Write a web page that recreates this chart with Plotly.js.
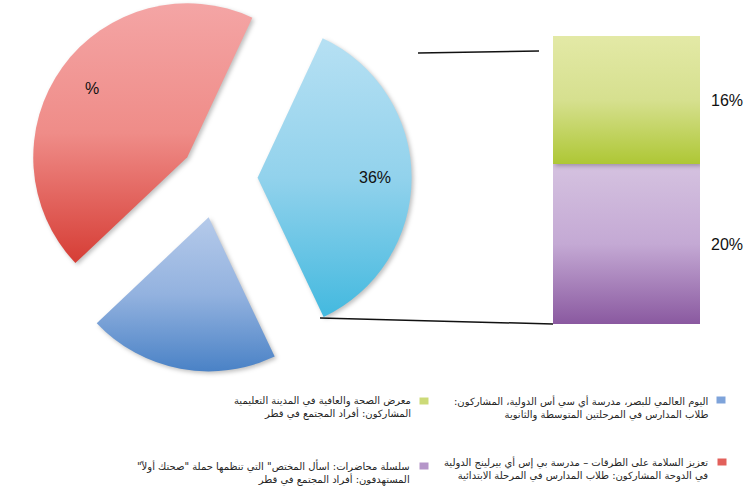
<!DOCTYPE html>
<html><head><meta charset="utf-8">
<script src="https://cdn.plot.ly/plotly-3.0.1.min.js"></script>
<style>
html,body{margin:0;padding:0;overflow:hidden;width:748px;height:487px;background:#fff}
#chart{position:absolute;left:0;top:-20px;width:748px;height:507px}
</style>
</head><body><div id="chart"></div>
<script>
// ---- data ----
const pieLabels = ['تعزيز السلامة على الطرقات', 'اليوم العالمي للبصر', 'أخرى'];
const pieValues = [44, 20, 36];
const pieText = ['%', '', '36%'];
const pieColors = ['#EC807C', '#8CAEDD', '#86CDEA'];

const barGroup = ['أخرى'];
const barNames = ['سلسلة محاضرات', 'معرض الصحة والعافية'];
const barValues = [20, 16];
const barText = ['20%', '16%'];
const barColors = ['#BBA0CD', '#D0DC7C'];

const legendLines = [
  ['اليوم العالمي للبصر، مدرسة أي سي أس الدولية، المشاركون:', 'طلاب المدارس في المرحلتين المتوسطة والثانوية'],
  ['معرض الصحة والعافية في المدينة التعليمية', 'المشاركون: أفراد المجتمع في قطر'],
  ['تعزيز السلامة على الطرقات – مدرسة بي إس أي بيرلينج الدولية', 'في الدوحة المشاركون: طلاب المدارس في المرحلة الابتدائية'],
  ['سلسلة محاضرات: اسأل المختص" التي تنظمها حملة "صحتك أولاً"', 'المستهدفون: أفراد المجتمع في قطر']
];
const legendColors = ['#7EA3DA', '#CCDA78', '#E2605B', '#B596C9'];

// ---- layout helpers (page pixels -> paper) ----
const W = 748, H = 507, OFF = 20;
const px = x => x / W;
const py = y => 1 - (y + OFF) / H;

const pieRotation = 226.6;
const piePull = [0.23, 0.26, 0.27];
const pieDomain = {x: [px(20.4), px(411.6)], y: [py(373.6), py(-17.6)]};

const data = [
  {
    type: 'pie', values: pieValues, labels: pieLabels,
    textinfo: 'none',
    sort: false, direction: 'counterclockwise', rotation: pieRotation,
    pull: piePull,
    marker: {colors: pieColors, line: {width: 0}},
    domain: pieDomain,
    hoverinfo: 'none', showlegend: false
  }
];
barValues.forEach((v, i) => {
  data.push({
    type: 'bar', x: barGroup, y: [v], name: barNames[i],
    marker: {color: barColors[i], line: {width: 0}},
    xaxis: 'x', yaxis: 'y', hoverinfo: 'none', showlegend: false
  });
});

const numFont = {family: 'Liberation Sans, Arial, sans-serif', size: 16, color: '#111'};
const annotations = [];

// pie labels placed along each slice's bisector (derived from values, rotation, pull)
(function () {
  const tot = pieValues.reduce((a, b) => a + b, 0);
  const k = 360 / tot;
  const maxPull = Math.max(...piePull);
  const cx = (pieDomain.x[0] + pieDomain.x[1]) / 2;
  const cy = (pieDomain.y[0] + pieDomain.y[1]) / 2;
  const r = Math.min((pieDomain.x[1] - pieDomain.x[0]) * W, (pieDomain.y[1] - pieDomain.y[0]) * H) / 2 / (1 + maxPull);
  const start = pieRotation + pieValues[0] * k;
  let cum = 0;
  pieValues.forEach((v, i) => {
    const b = (start - (cum + v / 2) * k) * Math.PI / 180;
    cum += v;
    if (!pieText[i]) return;
    const d = (piePull[i] + 0.76) * r;
    annotations.push({
      xref: 'paper', yref: 'paper', x: cx + d * Math.sin(b) / W, y: cy + d * Math.cos(b) / H,
      text: pieText[i], showarrow: false, xanchor: 'center', yanchor: 'middle', font: numFont
    });
  });
})();

const total = barValues.reduce((a, b) => a + b, 0);
let cumB = 0;
barValues.forEach((v, i) => {
  annotations.push({
    xref: 'x', yref: 'y', x: 0.5, y: cumB + v / 2, text: barText[i],
    xanchor: 'left', yanchor: 'middle', xshift: 9, showarrow: false, font: numFont
  });
  cumB += v;
});

const RLM = '\u200F';
const legendPos = [
  {x: 710, y: 408, sx: 721, sy: 400},
  {x: 413, y: 407.5, sx: 424, sy: 401},
  {x: 710, y: 469, sx: 722, sy: 462},
  {x: 412, y: 472.5, sx: 424, sy: 466}
];
const shapes = [
  {type: 'line', xref: 'paper', yref: 'paper', x0: px(418), y0: py(53), x1: px(539), y1: py(51), line: {color: '#111', width: 1.5}},
  {type: 'line', xref: 'paper', yref: 'paper', x0: px(320), y0: py(318), x1: px(553), y1: py(324), line: {color: '#111', width: 1.5}}
];
legendLines.forEach((lines, i) => {
  const p = legendPos[i];
  annotations.push({
    xref: 'paper', yref: 'paper', x: px(p.x), y: py(p.y), xanchor: 'right', yanchor: 'middle',
    align: 'right', showarrow: false,
    text: lines.map(l => RLM + l + RLM).join('<br>'),
    font: {family: 'DejaVu Sans, sans-serif', size: 10, color: '#262626'}
  });
  shapes.push({
    type: 'rect', xref: 'paper', yref: 'paper',
    x0: px(p.sx - 4.5), x1: px(p.sx + 4.5), y0: py(p.sy + 3.5), y1: py(p.sy - 3.5),
    fillcolor: legendColors[i], line: {width: 0}
  });
});

const layout = {
  width: W, height: H,
  margin: {l: 0, r: 0, t: 0, b: 0},
  paper_bgcolor: '#fff', plot_bgcolor: 'rgba(0,0,0,0)',
  barmode: 'stack', bargap: 0,
  xaxis: {domain: [px(553), px(700)], range: [-0.5, 0.5], visible: false, fixedrange: true},
  yaxis: {domain: [py(324), py(36)], range: [0, total], visible: false, fixedrange: true},
  annotations: annotations, shapes: shapes, showlegend: false
};

Plotly.newPlot('chart', data, layout, {staticPlot: true, displayModeBar: false}).then(gd => {
  const ns = 'http://www.w3.org/2000/svg';
  const svg = gd.querySelector('svg.main-svg');
  const defs = document.createElementNS(ns, 'defs');
  const grads = {
    pg0: ['#F4A5A5', '#EF8C88', '#D63D35'],
    pg1: ['#B5CAEA', '#93B2DF', '#4A82C6'],
    pg2: ['#B6E0F3', '#92D2EC', '#43B9DF'],
    bg0: ['#D5C2E0', '#C4A9D4', '#8A59A0'],
    bg1: ['#E3E9A6', '#D6E08F', '#AEC735']
  };
  Object.keys(grads).forEach(id => {
    const g = document.createElementNS(ns, 'linearGradient');
    g.setAttribute('id', id);
    g.setAttribute('x1', '0'); g.setAttribute('y1', '0');
    g.setAttribute('x2', '0'); g.setAttribute('y2', '1');
    grads[id].forEach((c, k) => {
      const s = document.createElementNS(ns, 'stop');
      s.setAttribute('offset', String(k / (grads[id].length - 1)));
      s.setAttribute('stop-color', c);
      g.appendChild(s);
    });
    defs.appendChild(g);
  });
  svg.insertBefore(defs, svg.firstChild);
  gd.querySelectorAll('g.slice path.surface').forEach((p, i) => {
    p.style.fill = 'url(#pg' + i + ')';
    p.style.filter = 'drop-shadow(2px 2px 2px rgba(0,0,0,0.25))';
  });
  gd.querySelectorAll('g.trace.bars').forEach((t, i) => {
    t.querySelectorAll('path').forEach(p => {
      p.style.fill = 'url(#bg' + i + ')';
      p.style.filter = 'drop-shadow(2px 2px 2px rgba(0,0,0,0.25))';
    });
  });
});
</script>
</body></html>
